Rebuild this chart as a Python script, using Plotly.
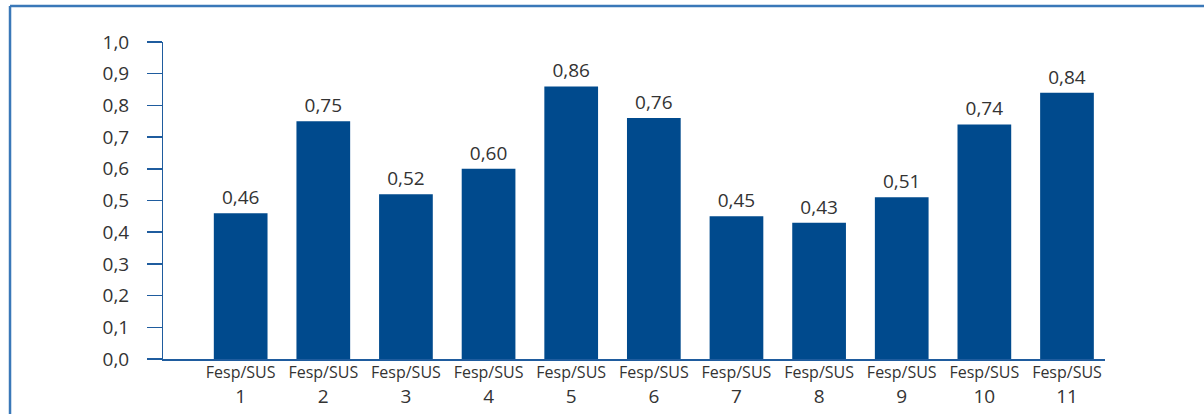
import plotly.graph_objects as go

series_names = ["Fesp/SUS"] * 11
series_numbers = list(range(1, 12))
values = [0.46, 0.75, 0.52, 0.60, 0.86, 0.76, 0.45, 0.43, 0.51, 0.74, 0.84]
value_labels = [f"{v:.2f}".replace(".", ",") for v in values]
y_ticks = [round(i * 0.1, 1) for i in range(11)]
y_tick_labels = [f"{t:.1f}".replace(".", ",") for t in y_ticks]

categories = [f"<span style='font-size:16px'>{n}</span><br>{k}"
              for n, k in zip(series_names, series_numbers)]

BAR = "#004a8d"
AXIS = "#1f5c9e"
FRAME = "#3a78b8"
TEXT = "#333333"
FONT = "Open Sans"

fig = go.Figure(go.Bar(
    x=categories, y=values,
    marker=dict(color=BAR, line=dict(width=0)),
    width=0.65,
    text=value_labels, textposition="outside",
    textfont=dict(size=19, color=TEXT, family=FONT),
    cliponaxis=False,
))

fig.update_layout(
    width=1204, height=414,
    margin=dict(l=163, r=99, t=42, b=55),
    paper_bgcolor="white", plot_bgcolor="white",
    showlegend=False,
    font=dict(family=FONT, color=TEXT),
    xaxis=dict(
        type="category", range=[-0.94, 10.46],
        showline=True, linecolor=AXIS, linewidth=2,
        showgrid=False, ticks="", ticklen=0,
        ticklabelstandoff=-6,
        tickfont=dict(size=19, color=TEXT, family=FONT),
        fixedrange=True, automargin=False,
    ),
    yaxis=dict(
        range=[0, 1.0], tickvals=y_ticks, ticktext=y_tick_labels,
        showline=True, linecolor=AXIS, linewidth=1,
        ticks="outside", ticklen=15, tickcolor=AXIS, tickwidth=1.5,
        ticklabelstandoff=14,
        showgrid=False, zeroline=False,
        tickfont=dict(size=19, color=TEXT, family=FONT),
        fixedrange=True, automargin=False,
    ),
)

# frame decoration (top and left border of the panel)
fig.add_shape(type="line", xref="paper", yref="paper",
              x0=-0.1624, x1=1.2, y0=1.1136, y1=1.1136,
              line=dict(color=FRAME, width=2.5))
fig.add_shape(type="line", xref="paper", yref="paper",
              x0=-0.1624, x1=-0.1624, y0=1.1136, y1=-0.2,
              line=dict(color=FRAME, width=2.5))

fig.write_html("out.html",
               config={"displayModeBar": False, "staticPlot": True},
               post_script="document.body.style.margin='0px';document.body.style.overflow='hidden';")
